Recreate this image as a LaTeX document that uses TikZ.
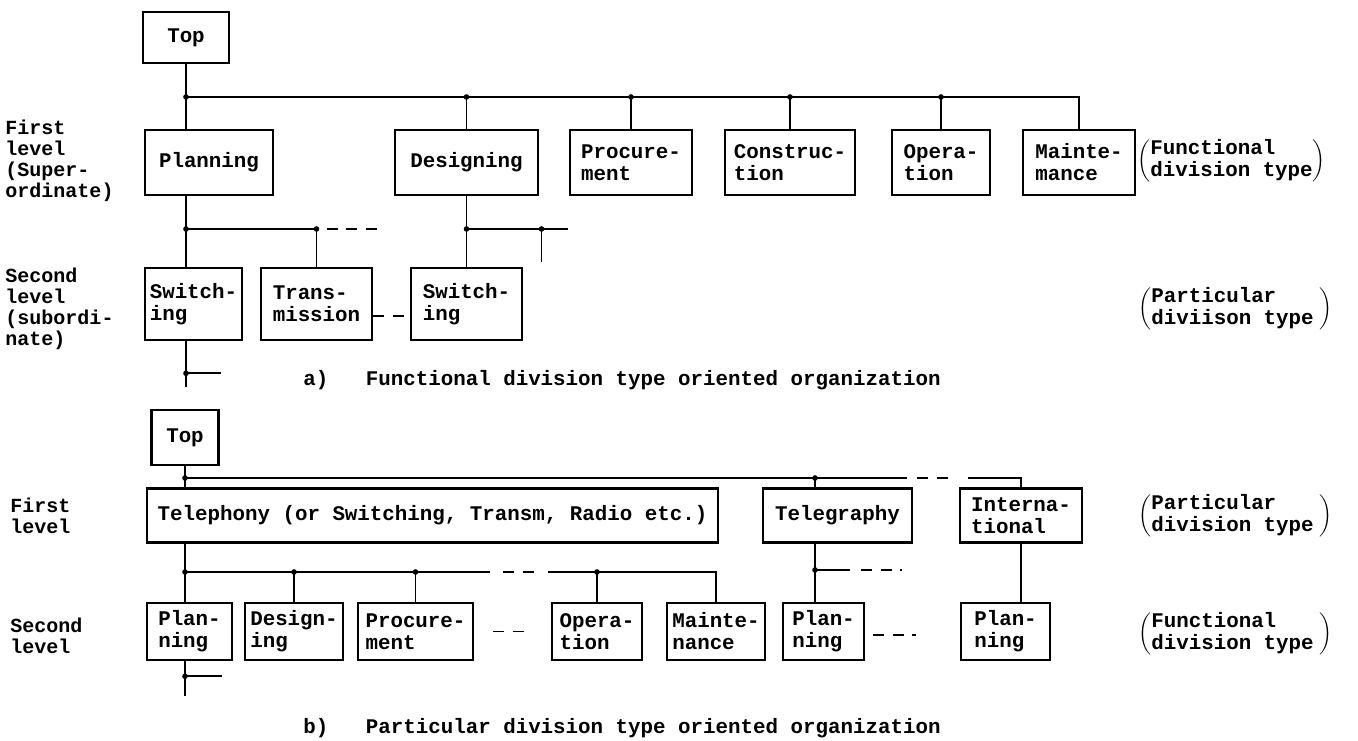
\documentclass[tikz,border=0pt]{standalone}
\usepackage{fontspec}
\newfontfamily\typewriter{Liberation Mono}
\usepackage{tikz}
\usetikzlibrary{positioning, calc}
\tikzset{
    unit/.style={rectangle, draw=black, line width=1.5pt, align=left, inner sep=0pt, font=\typewriter\bfseries\fontsize{11.85}{12.5}\selectfont},
    lvlabel/.style={anchor=west, align=left, inner sep=0pt, font=\typewriter\bfseries\fontsize{11.4}{12}\selectfont},
    line/.style={line width=1.1pt},
    dashline/.style={line width=1.1pt, dash pattern=on 0.22cm off 0.17cm}
}

\begin{document}
\begin{tikzpicture}[
    firstbox/.style={unit, minimum height=1.30cm},
    subbox/.style={unit, minimum height=1.44cm},
    rowbox/.style={unit, minimum height=1.08cm},
    lowbox/.style={unit, minimum height=1.14cm},
    bracket/.style={anchor=west, inner sep=0pt, font=\typewriter\bfseries\fontsize{11.85}{12.5}\selectfont},
    caption/.style={anchor=west, inner sep=0pt, font=\typewriter\bfseries\fontsize{11.85}{12.5}\selectfont}
]
    \useasboundingbox (0,0) rectangle (27.16,-14.82);

    % a) functional division type
    \node[unit, minimum width=1.72cm, minimum height=1.02cm] (topA) at (3.72,-0.75) {Top};
    \node[firstbox, minimum width=2.56cm] (planA) at (4.18,-3.25) {Planning};
    \node[firstbox, minimum width=2.86cm] (desA) at (9.33,-3.25) {Designing};
    \node[firstbox, minimum width=2.44cm] (procA) at (12.62,-3.25) {Procure-\\ment};
    \node[firstbox, minimum width=2.60cm] (consA) at (15.80,-3.25) {Construc-\\tion};
    \node[firstbox, minimum width=1.96cm] (operA) at (18.82,-3.25) {Opera-\\tion};
    \node[firstbox, minimum width=2.24cm] (maintA) at (21.58,-3.25) {Mainte-\\mance};

    \node[subbox, minimum width=1.94cm] (swA) at (3.87,-6.08) {Switch-\\ing};
    \node[subbox, minimum width=2.22cm] (trA) at (6.33,-6.08) {Trans-\\mission};
    \node[subbox, minimum width=2.22cm] (sw2A) at (9.33,-6.08) {Switch-\\ing};

    \node[lvlabel] (firstA) at (0.10,-3.22) {First\\level\\(Super-\\ordinate)};
    \node[lvlabel] (secondA) at (0.10,-6.18) {Second\\level\\(subordi-\\nate)};
    \node[bracket] (funcA) at (22.74,-3.22) {$\left(\begin{tabular}{@{}l@{}}Functional\\division type\end{tabular}\right)$};
    \node[bracket] (partA) at (22.76,-6.18) {$\left(\begin{tabular}{@{}l@{\hspace{3pt}}}Particular\\diviison type\end{tabular}\right)$};
    \node[caption] (capA) at (6.06,-7.60) {a)\ \ \ Functional division type oriented organization};

    \coordinate (busA) at (3.72,-1.94);
    \coordinate (busA2) at (3.72,-4.58);
    \coordinate (busD) at (9.33,-4.58);

    \draw[line] (topA) -- (topA |- planA.north);
    \draw[line] (busA) -| (maintA);
    \foreach \n in {desA,procA,consA,operA} {
        \draw[line] (busA -| \n) -- (\n);
        \fill (busA -| \n) circle (1.6pt);
    }
    \fill (busA) circle (1.6pt);

    \draw[line] (topA |- planA.south) -- (topA |- swA.north);
    \draw[line] (busA2) -| (trA);
    \fill (busA2 -| trA) circle (1.6pt);
    \fill (busA2) circle (1.6pt);
    \draw[dashline] ([xshift=0.2cm]busA2 -| trA) -- ++(1.0,0);
    \draw[dashline] ([yshift=-0.24cm]trA.east) -- ([yshift=-0.24cm]sw2A.west);

    \draw[line] (desA) -- (sw2A);
    \draw[line] (busD) -- ++(2.02,0);
    \draw[line] ([xshift=1.50cm]busD) -- ++(0,-0.66);
    \fill ([xshift=1.50cm]busD) circle (1.6pt);
    \fill (busD) circle (1.6pt);

    \draw[line] (topA |- swA.south) -- ++(0,-0.92);
    \draw[line] ([yshift=-0.64cm]topA |- swA.south) -- ++(0.70,0);
    \fill ([yshift=-0.64cm]topA |- swA.south) circle (1.6pt);

    % b) particular division type
    \node[unit, minimum width=1.34cm, minimum height=1.10cm] (topB) at (3.70,-8.75) {Top};
    \node[rowbox, minimum width=11.42cm] (telB) at (8.65,-10.31) {Telephony (or Switching, Transm, Radio etc.)};
    \node[rowbox, minimum width=2.98cm] (tgB) at (16.75,-10.31) {Telegraphy};
    \node[rowbox, minimum width=2.44cm] (intB) at (20.42,-10.31) {Interna-\\tional};

    \node[lowbox, minimum width=1.70cm] (plB) at (3.79,-12.63) {Plan-\\ning};
    \node[lowbox, minimum width=1.96cm] (dsB) at (5.88,-12.63) {Design-\\ing};
    \node[lowbox, minimum width=2.30cm] (prB) at (8.31,-12.63) {Procure-\\ment};
    \node[lowbox, minimum width=1.80cm] (opB) at (11.94,-12.63) {Opera-\\tion};
    \node[lowbox, minimum width=1.96cm] (mtB) at (14.32,-12.63) {Mainte-\\nance};
    \node[lowbox, minimum width=1.62cm] (ptB) at (16.47,-12.63) {Plan-\\ning};
    \node[lowbox, minimum width=1.78cm] (piB) at (20.11,-12.63) {Plan-\\ning};

    \node[lvlabel] (firstB) at (0.20,-10.32) {First\\level};
    \node[lvlabel] (secondB) at (0.20,-12.72) {Second\\level};
    \node[bracket] (partB) at (22.76,-10.32) {$\left(\begin{tabular}{@{}l@{\hspace{3pt}}}Particular\\division type\end{tabular}\right)$};
    \node[bracket] (funcB) at (22.76,-12.68) {$\left(\begin{tabular}{@{}l@{\hspace{3pt}}}Functional\\division type\end{tabular}\right)$};
    \node[caption] (capB) at (6.06,-14.56) {b)\ \ \ Particular division type oriented organization};

    \coordinate (busB) at (3.70,-9.56);
    \coordinate (tgX) at (16.30,-9.56);
    \coordinate (busB2) at (3.70,-11.44);
    \coordinate (busT) at (16.30,-11.40);

    \draw[line] (topB) -- (topB |- telB.north);
    \draw[line] (busB) -- ++(14.44,0);
    \draw[dashline] ([xshift=14.64cm]busB) -- ++(0.62,0);
    \draw[line] (intB) |- ([xshift=-1.06cm]intB.north |- busB);
    \draw[line] (tgX) -- (tgX |- tgB.north);
    \fill (tgX) circle (1.6pt);
    \fill (busB) circle (1.6pt);

    \draw[line] (topB |- telB.south) -- (topB |- plB.north);
    \draw[line] (busB2) -- ++(6.10,0);
    \draw[dashline] ([xshift=6.36cm]busB2) -- ++(0.70,0);
    \draw[line] (mtB) |- ([xshift=-3.36cm]mtB.north |- busB2);
    \foreach \n in {dsB,prB,opB} {
        \draw[line] (busB2 -| \n) -- (\n);
        \fill (busB2 -| \n) circle (1.6pt);
    }
    \fill (busB2) circle (1.6pt);
    \draw[dashline] ([xshift=0.38cm]prB.east) -- ([xshift=-0.44cm]opB.west);

    \draw[line] (tgX |- tgB.south) -- (tgX |- ptB.north);
    \draw[line] (busT) -- ++(0.70,0);
    \draw[dashline] ([xshift=0.92cm]busT) -- ++(0.82,0);
    \fill (busT) circle (1.6pt);
    \draw[dashline] ([xshift=0.16cm, yshift=-0.07cm]ptB.east) -- ++(0.86,0);
    \draw[line] (intB) -- (intB |- piB.north);

    \draw[line] (topB |- plB.south) -- ++(0,-0.70);
    \draw[line] ([yshift=-0.30cm]topB |- plB.south) -- ++(0.74,0);
    \fill ([yshift=-0.30cm]topB |- plB.south) circle (1.6pt);
\end{tikzpicture}
\end{document}
